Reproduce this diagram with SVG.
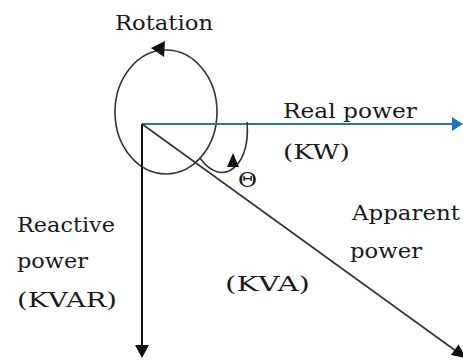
<svg xmlns="http://www.w3.org/2000/svg" width="463" height="360" viewBox="0 0 463 360">
<style>
.t{font-family:"DejaVu Serif","Liberation Serif",serif;font-size:21px;fill:#1a1a1a;}
.k{stroke:#111;stroke-width:2;fill:none;}
.g{stroke:#333;stroke-width:1.6;fill:none;}
.b{stroke:#1f74c6;stroke-width:2;fill:none;}
</style>
<rect width="463" height="360" fill="#fff"/>
<g id="rotation">
<ellipse class="g" cx="166" cy="112" rx="51" ry="62"/>
<polygon points="151,48 165,41 164,57" fill="#111"/>
<text class="t" x="115" y="30" textLength="98" lengthAdjust="spacingAndGlyphs">Rotation</text>
</g>
<g id="connectors">
<line class="b" x1="142" y1="124" x2="454" y2="124"/>
<polygon points="463,124 452,117 452,131" fill="#1f74c6"/>
<line class="k" x1="142" y1="124" x2="142" y2="346"/>
<polygon points="142,358 135,345 149,345" fill="#111"/>
<line class="g" x1="142" y1="124" x2="456" y2="351" stroke-width="1.8"/>
<polygon points="466,358 450.9,354.9 458.6,344.5" fill="#111"/>
<path class="g" d="M247,122 C249,145 243,164 229,171 C218,176 207,168 200,158"/>
<polygon points="233,153 227,167 239,167" fill="#111"/>
</g>
<g id="real-power">
<text class="t" x="283" y="118" textLength="134" lengthAdjust="spacingAndGlyphs">Real power</text>
<text class="t" x="283" y="159" textLength="67" lengthAdjust="spacingAndGlyphs">(KW)</text>
</g>
<g id="theta">
<text class="t" x="238" y="187" textLength="19" lengthAdjust="spacingAndGlyphs">Θ</text>
</g>
<g id="apparent-power">
<text class="t" x="352" y="220" textLength="108" lengthAdjust="spacingAndGlyphs">Apparent</text>
<text class="t" x="350" y="258" textLength="72" lengthAdjust="spacingAndGlyphs">power</text>
<text class="t" x="225" y="291" textLength="85" lengthAdjust="spacingAndGlyphs">(KVA)</text>
</g>
<g id="reactive-power">
<text class="t" x="17" y="232" textLength="98" lengthAdjust="spacingAndGlyphs">Reactive</text>
<text class="t" x="17" y="268" textLength="71" lengthAdjust="spacingAndGlyphs">power</text>
<text class="t" x="17" y="307" textLength="100" lengthAdjust="spacingAndGlyphs">(KVAR)</text>
</g>
</svg>
